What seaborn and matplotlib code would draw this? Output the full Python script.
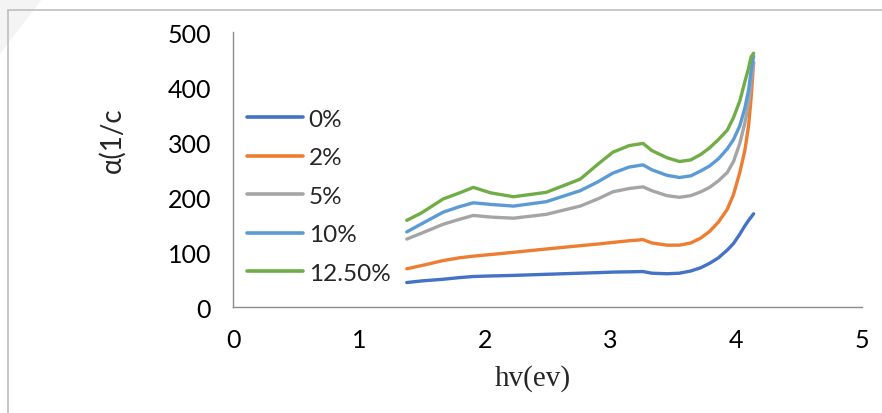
import numpy as np
import pandas as pd
import matplotlib
matplotlib.use("Agg")
import matplotlib.pyplot as plt
from matplotlib.lines import Line2D
from matplotlib.patches import Polygon
import seaborn as sns

# ---- data ----
hv = [1.38, 1.5, 1.67, 1.8, 1.91, 2.05, 2.23, 2.49, 2.76, 2.9, 3.02, 3.15, 3.26, 3.33,
      3.45, 3.55, 3.64, 3.72, 3.79, 3.86, 3.93, 3.98, 4.03, 4.07, 4.1, 4.12, 4.14]
s0 = [45, 48, 51, 54, 56, 57, 58, 60, 62, 63, 64, 64.5, 65, 62, 61, 62, 66, 72, 80, 90,
      104, 116, 133, 148, 158, 164, 170]
s2 = [70, 76, 85, 90, 93, 96, 100, 106, 112, 115, 118, 121, 123, 117, 113, 113, 117, 126,
      138, 155, 178, 205, 245, 285, 330, 380, 445]
s5 = [124, 135, 151, 160, 167, 164, 162, 169, 184, 197, 210, 216, 219, 212, 203, 200, 203,
      210, 218, 230, 245, 265, 298, 335, 370, 410, 445]
s10 = [137, 152, 173, 183, 190, 187, 184, 192, 212, 228, 244, 255, 259, 250, 240, 236, 239,
       248, 257, 270, 288, 305, 330, 362, 395, 430, 457]
s125 = [158, 172, 197, 208, 218, 208, 201, 209, 233, 260, 282, 294, 298, 285, 272, 265, 268,
        278, 290, 305, 322, 345, 375, 410, 435, 455, 462]
labels = ["0%", "2%", "5%", "10%", "12.50%"]
colors = ["#4472C4", "#ED7D31", "#A5A5A5", "#5B9BD5", "#70AD47"]
xticks = [0, 1, 2, 3, 4, 5]
yticks = [0, 100, 200, 300, 400, 500]

series = [s0, s2, s5, s10, s125]
df = pd.concat([pd.DataFrame({"hv": hv, "alpha": s, "conc": lab})
                for s, lab in zip(series, labels)], ignore_index=True)

sns.set_style("white")
plt.rcParams["font.family"] = ["Lato", "DejaVu Sans"]

W, H = 882, 414
fig = plt.figure(figsize=(W / 100, H / 100), dpi=100)

# faint background shape and outer chart frame
fig.add_artist(Polygon([[0, 1], [42 / W, 1], [0, 1 - 55 / H]], closed=True,
                       transform=fig.transFigure, facecolor="#f4f4f4", edgecolor="none", zorder=0))
fig.add_artist(Line2D([8 / W, 8 / W], [0, 1 - 11 / H], transform=fig.transFigure,
                      color="#bfbfbf", lw=1.2))
fig.add_artist(Line2D([8 / W, 1], [1 - 11 / H, 1 - 11 / H], transform=fig.transFigure,
                      color="#bfbfbf", lw=1.2))

ax = fig.add_axes([233.3 / W, 1 - 308.3 / H, 628.4 / W, 275 / H])
ax.patch.set_alpha(0)

sns.lineplot(data=df, x="hv", y="alpha", hue="conc", hue_order=labels, palette=colors,
             linewidth=2.4, errorbar=None, sort=True, ax=ax)

ax.set_xlim(0, 5)
ax.set_ylim(0, 500)
ax.set_xticks(xticks)
ax.set_xticks(np.arange(0, 5.01, 0.2), minor=True)
ax.set_yticks(yticks)
for sp in ["top", "right"]:
    ax.spines[sp].set_visible(False)
for sp in ["left", "bottom"]:
    ax.spines[sp].set_color("#8c8c8c")
    ax.spines[sp].set_linewidth(1.0)
ax.tick_params(axis="both", which="major", direction="out", length=5, width=1,
               color="#8c8c8c", labelsize=18, labelcolor="black")
ax.tick_params(axis="x", which="major", pad=10)
ax.tick_params(axis="y", which="major", pad=11)
ax.tick_params(axis="x", which="minor", direction="out", length=4, width=1, color="#8c8c8c")
ax.tick_params(axis="y", which="minor", length=0)

ax.set_xlabel("hv(ev)", fontsize=21, family="Liberation Serif")
ax.xaxis.set_label_coords((533 - 233.3) / 628.4, (308.3 - 379) / 275)
ax.xaxis.label.set_va("center")
ax.set_ylabel("")
fig.text(112.5 / W, 1 - 140 / H, "α(1/c", rotation=90, fontsize=20, ha="center", va="center")

leg = ax.legend(loc="center left", bbox_to_anchor=((246.7 - 233.3) / 628.4, (308.3 - 197.2) / 275),
                frameon=False, fontsize=17.5, handlelength=2.3, handletextpad=0.25,
                labelspacing=0.72, borderpad=0, borderaxespad=0)
for line in leg.get_lines():
    line.set_linewidth(2.6)

fig.savefig("out.png", dpi=100)
